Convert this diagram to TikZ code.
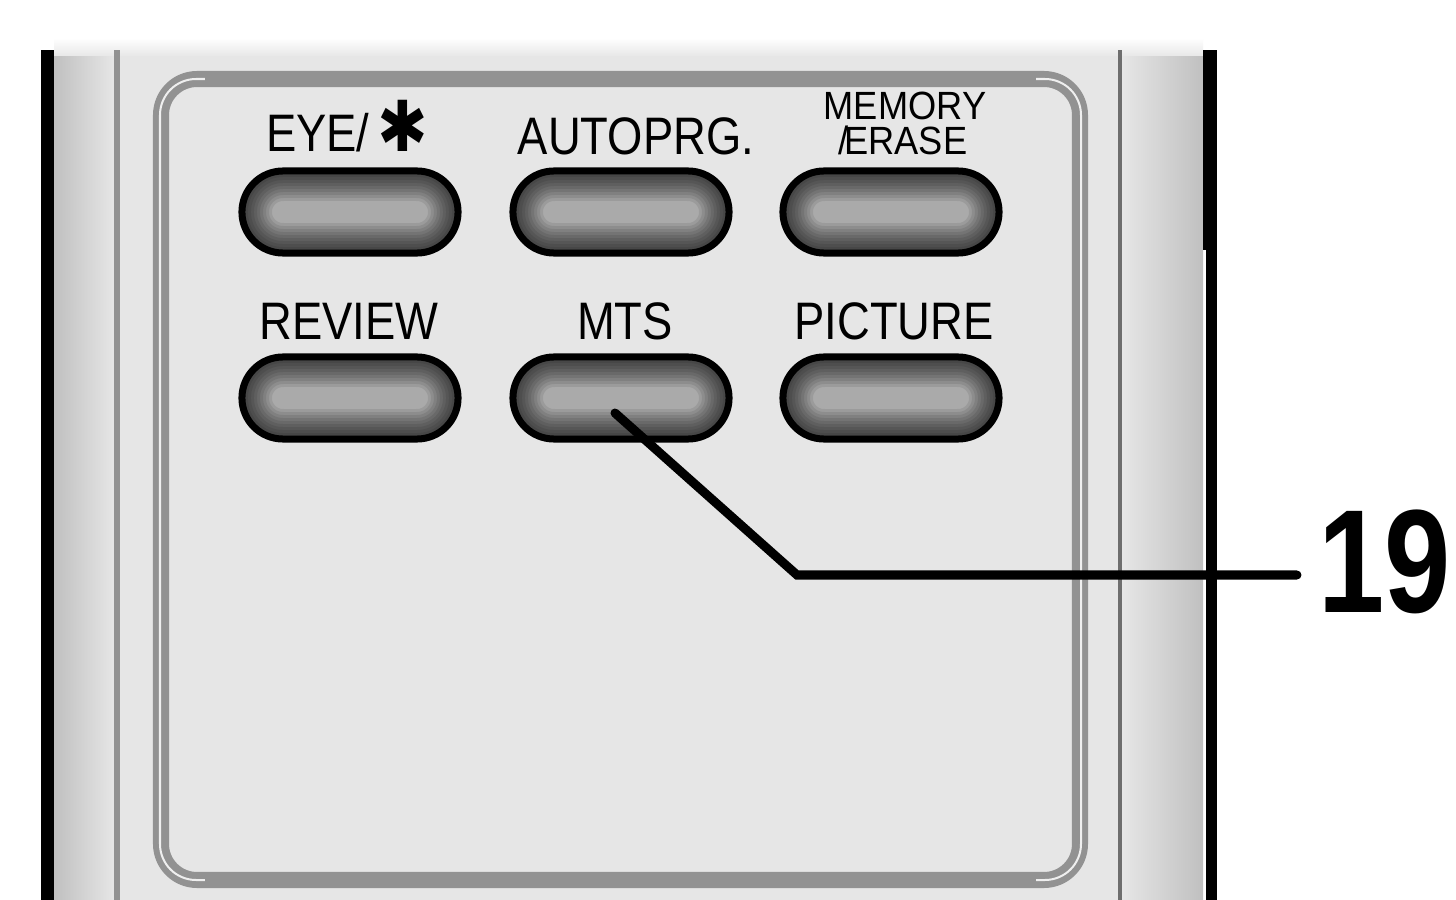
\documentclass[tikz,border=0pt]{standalone}
\usepackage{fontspec}
\setmainfont{Liberation Sans}
\newfontfamily\dingfont{DejaVu Sans}
\usetikzlibrary{shapes.misc,positioning,calc}

\definecolor{bodygray}{HTML}{E6E6E6}
\definecolor{rimgray}{HTML}{929292}
\definecolor{keygray}{HTML}{AAAAAA}
\definecolor{sidegray}{HTML}{C0C0C0}
\definecolor{edgegray}{HTML}{6E6E6E}

\tikzset{
  key/.style={rounded rectangle, minimum width=2.16cm, minimum height=0.82cm,
    inner sep=0pt, fill=keygray, draw=black, line width=0.07cm,
    path picture={
      \foreach \w in {0.60,0.54,...,0.05}{
        \draw[black, opacity=0.085, line width=\w cm, rounded corners=0.41cm]
          (path picture bounding box.south west) rectangle (path picture bounding box.north east);}
    }},
  lbl/.style={anchor=base, inner sep=0pt, xscale=0.86, text height=0.38cm, text depth=0pt,
    font=\fontsize{15}{15}\selectfont},
  smalllbl/.style={anchor=base, inner sep=0pt, xscale=0.92, text height=0.27cm, text depth=0pt,
    font=\fontsize{11.2}{12}\selectfont},
  leader/.style={draw=black, line width=0.09cm, line cap=round, line join=miter}
}

\begin{document}
\begin{tikzpicture}[x=0.01cm,y=-0.01cm]
  \useasboundingbox (0,0) rectangle (1456,900);
  \fill[white] (0,0) rectangle (1456,900);

  % remote body
  \shade[top color=white, bottom color=bodygray] (54,38) rectangle (1203,57);
  \fill[bodygray] (54,56) rectangle (1203,900);
  \shade[left color=sidegray, right color=bodygray] (54,56) rectangle (114,900);
  \shade[left color=bodygray, right color=sidegray] (1122,56) rectangle (1203,900);
  \fill[rimgray] (114,50) rectangle (120,900);
  \fill[edgegray] (1118,50) rectangle (1122,900);
  \fill[black] (41,50) rectangle (54,900);
  \fill[black] (1203,50) rectangle (1217,250);
  \fill[black] (1206,250) rectangle (1217,900);

  % key panel
  \draw[rimgray, line width=0.16cm, rounded corners=0.36cm] (161,79) rectangle (1080,880);
  \draw[white!85!rimgray, line width=0.02cm, rounded corners=0.36cm] (160,79) rectangle (1081,880);
  \draw[rimgray, line width=0.05cm] (205,79) -- (1036,79);
  \draw[rimgray, line width=0.05cm] (205,880) -- (1036,880);

  % keys
  \node[key] (bEye) at (350,212) {};
  \node[key] (bAuto) at (621,212) {};
  \node[key] (bMem) at (891,212) {};
  \node[key] (bRev) at (350,398) {};
  \node[key] (bMts) at (621,398) {};
  \node[key] (bPic) at (891,398) {};

  % key labels
  \node[lbl] (lEye) at (347,152) {EYE/\,{\dingfont\fontsize{20}{20}\selectfont ✱}};
  \node[lbl] (lAuto) at (636,155) {AUTOPRG.};
  \node[smalllbl] (lMem) at (905,120) {MEMORY};
  \node[smalllbl] (lErase) at (903,154) {/\kern-0.12em ERASE};
  \node[lbl] (lRev) at (349,340) {REVIEW};
  \node[lbl] (lMts) at (625,340) {MTS};
  \node[lbl] (lPic) at (894,340) {PICTURE};

  % callout
  \coordinate (tip) at (615,413);
  \coordinate (knee) at (797,575);
  \node[anchor=base west, inner sep=0pt, xscale=0.81,
    font=\fontsize{41.8}{42}\selectfont\bfseries] (n19) at (1318,613) {19};
  \draw[leader, shorten >=0.21cm] (tip) -- (knee) -- (knee -| n19.west);
\end{tikzpicture}
\end{document}
